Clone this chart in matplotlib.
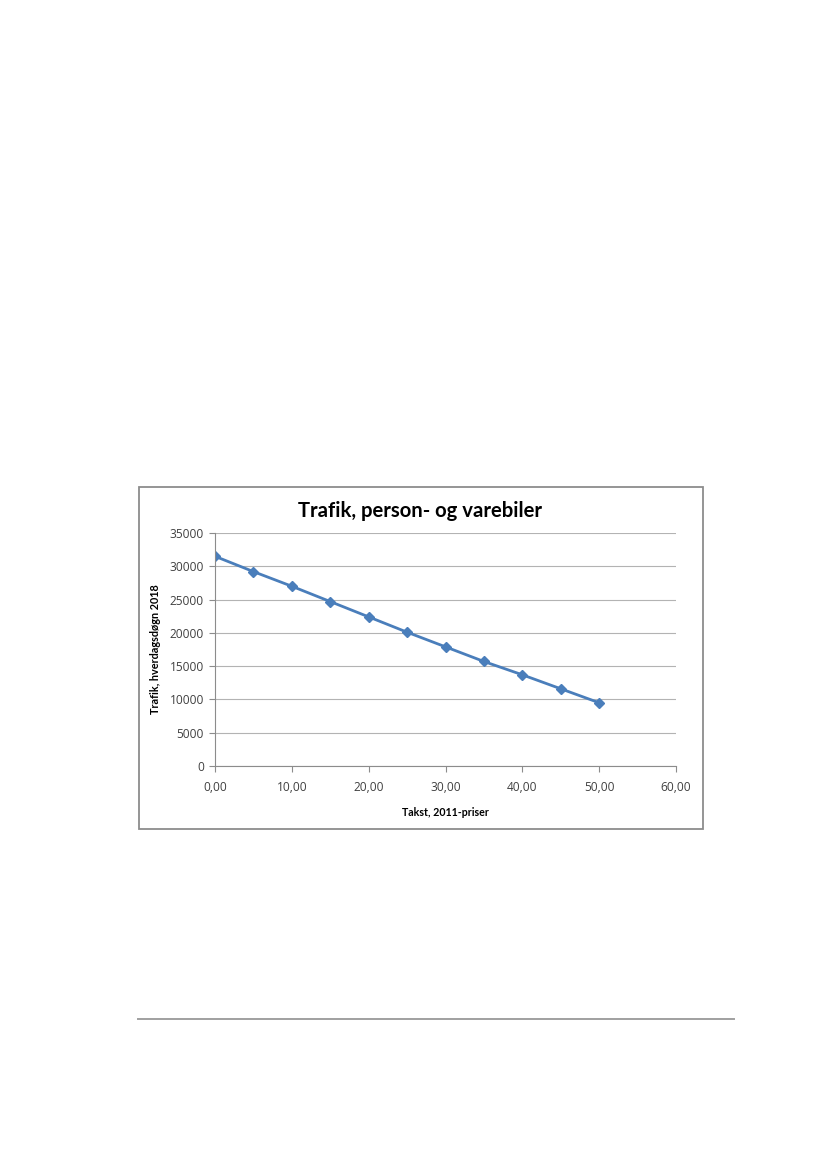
import matplotlib
matplotlib.use('Agg')
import matplotlib.pyplot as plt
from matplotlib.patches import Rectangle
from matplotlib.ticker import FuncFormatter

# Data
takst = [0, 5, 10, 15, 20, 25, 30, 35, 40, 45, 50]
trafik = [31500, 29200, 27000, 24700, 22400, 20100, 17900, 15700, 13700, 11600, 9500]

title = 'Trafik, person- og varebiler'
xlabel = 'Takst, 2011-priser'
ylabel = 'Trafik, hverdagsdøgn 2018'

plt.rcParams['font.family'] = ['Open Sans', 'DejaVu Sans']

fig = plt.figure(figsize=(8.27, 11.69), dpi=100)
W, H = 827, 1169

# chart frame
fig.patches.append(Rectangle((139 / W, 1 - 829 / H), (703 - 139) / W, (829 - 487) / H,
                             transform=fig.transFigure, fill=False,
                             edgecolor='#8c8c8c', linewidth=1.3))
# footer rule
fig.add_artist(plt.Line2D([138 / W, 734 / W], [1 - 1019 / H, 1 - 1019 / H],
                          transform=fig.transFigure, color='#a0a0a0', linewidth=1.4))

ax = fig.add_axes([215 / W, 1 - 766 / H, (676 - 215) / W, (766 - 533) / H])
ax.plot(takst, trafik, color='#4a7ebb', linewidth=2, marker='D', markersize=5.5)

ax.set_xlim(0, 60)
ax.set_ylim(0, 35000)
ax.set_xticks(range(0, 61, 10))
ax.set_yticks(range(0, 35001, 5000))
ax.xaxis.set_major_formatter(FuncFormatter(lambda v, p: f'{v:.2f}'.replace('.', ',')))
ax.grid(axis='y', color='#b3b3b3', linewidth=0.8)
ax.set_axisbelow(True)
for s in ['top', 'right']:
    ax.spines[s].set_visible(False)
for s in ['left', 'bottom']:
    ax.spines[s].set_color('#8c8c8c')
    ax.spines[s].set_linewidth(0.8)
ax.tick_params(axis='both', labelsize=8.6, colors='#8c8c8c', labelcolor='#404040',
               length=4, width=0.8)
ax.tick_params(axis='y', pad=4)
ax.tick_params(axis='x', pad=7)

ax.set_xlabel(xlabel, family='Lato', fontsize=7.7, fontweight='bold', labelpad=9)
ax.set_ylabel(ylabel, family='Lato', fontsize=7.8, fontweight='bold', labelpad=6)

fig.text(420 / W, 1 - 511 / H, title, family='Lato', fontsize=14.6, fontweight='bold',
         ha='center', va='center')

fig.savefig('out.png', dpi=100)
